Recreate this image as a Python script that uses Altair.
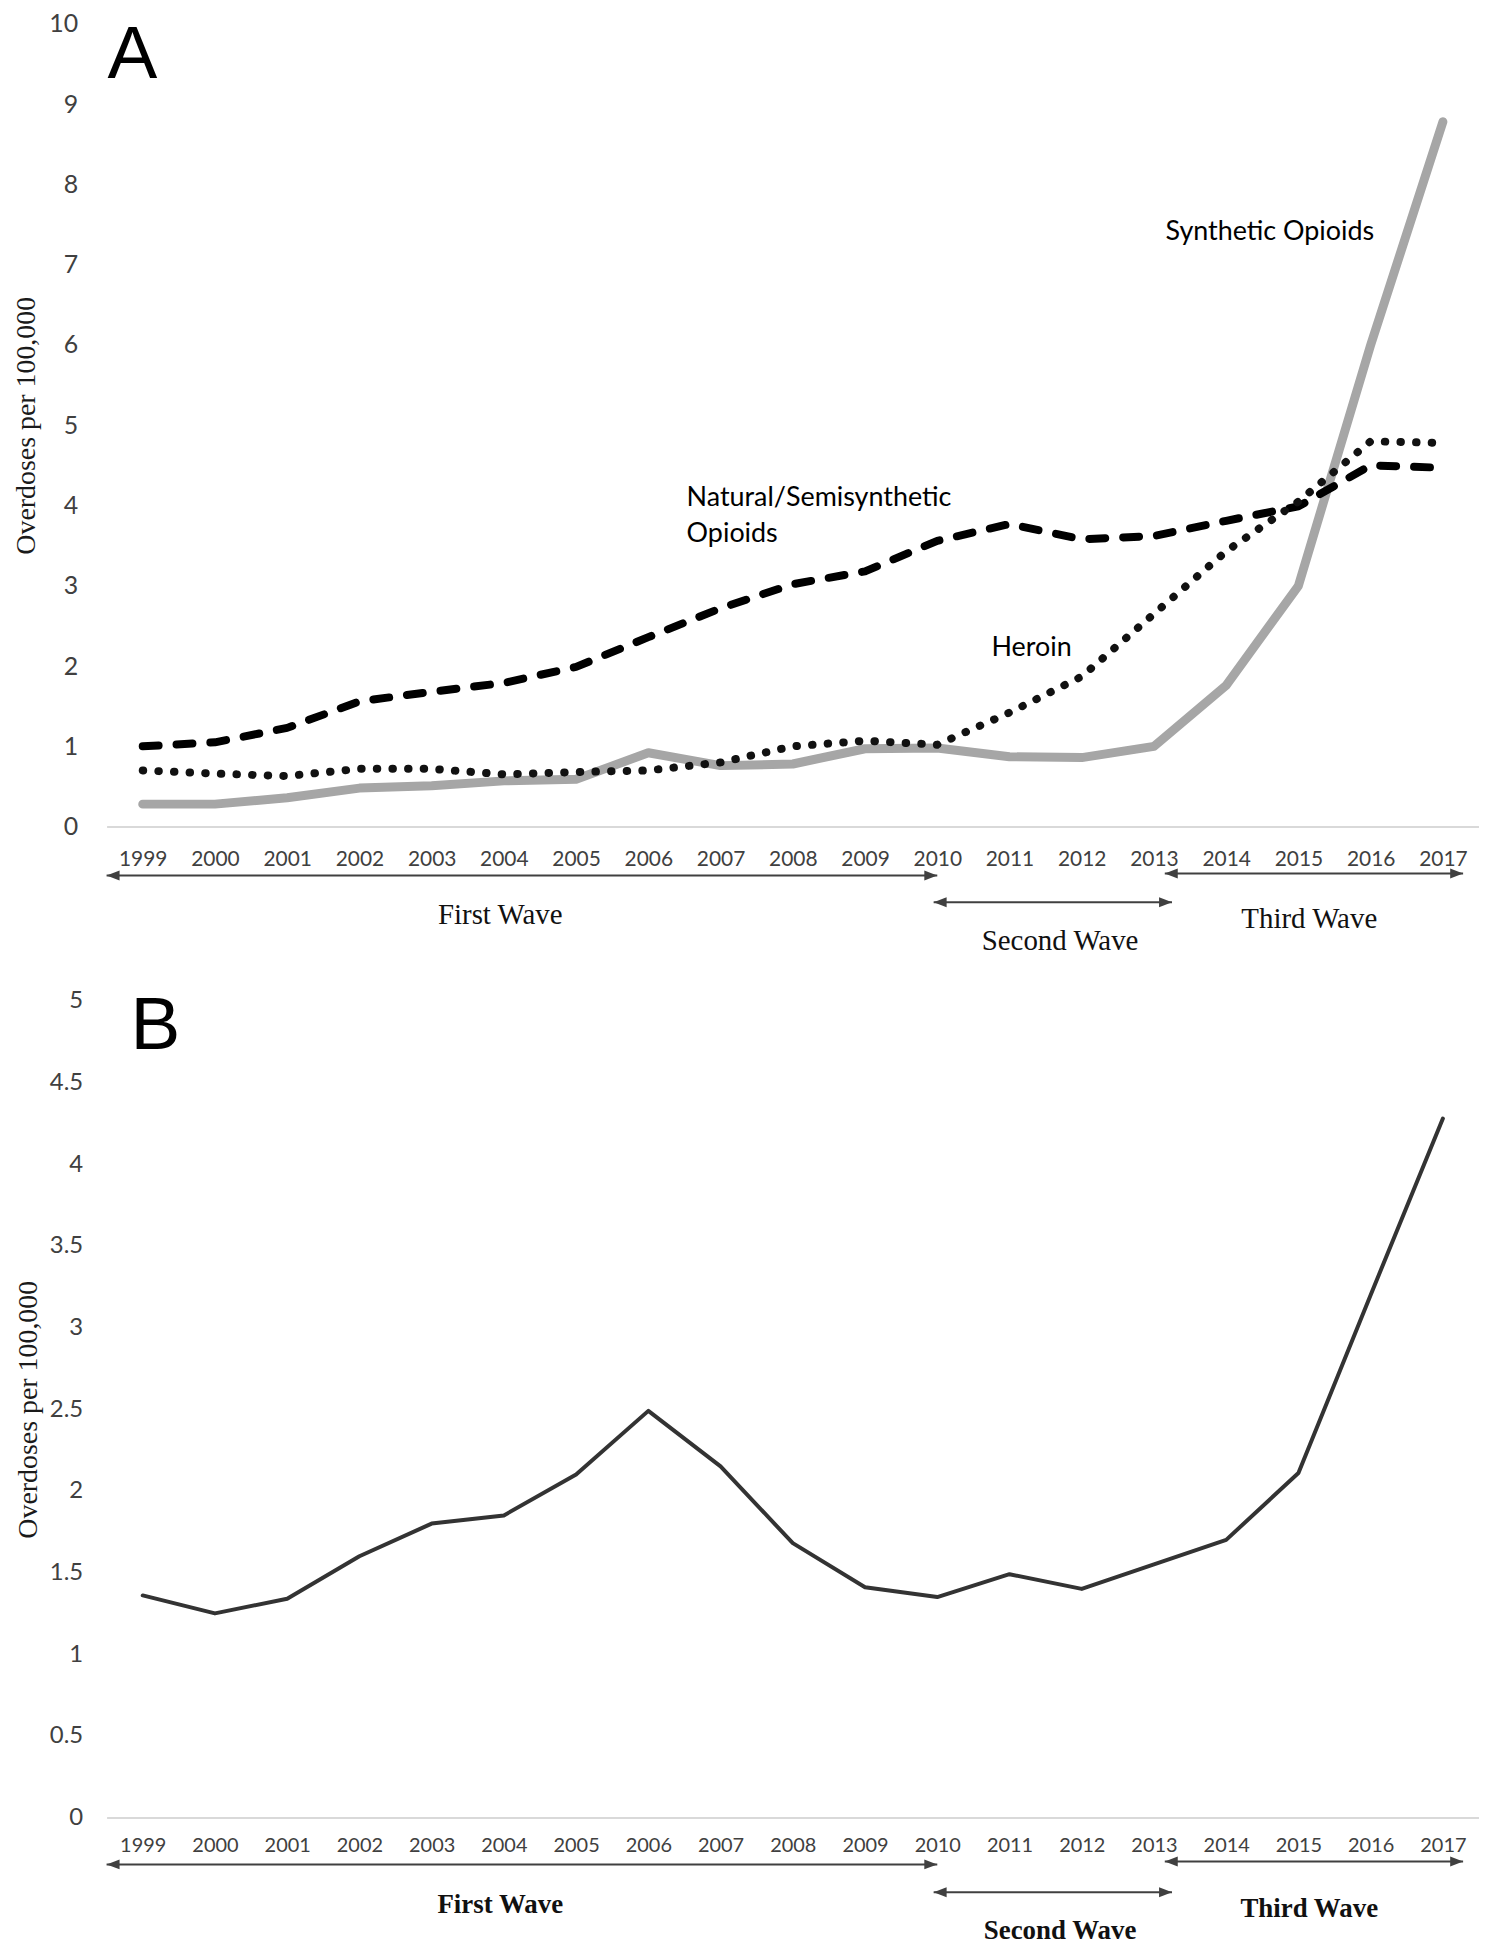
import altair as alt
import pandas as pd

# ---------------- data ----------------
YEARS = list(range(1999, 2018))
NATURAL = [1.0, 1.05, 1.23, 1.56, 1.68, 1.79, 1.99, 2.36, 2.72, 3.02, 3.18, 3.56,
           3.77, 3.58, 3.62, 3.81, 3.99, 4.50, 4.47]
HEROIN = [0.70, 0.66, 0.63, 0.72, 0.72, 0.65, 0.68, 0.70, 0.80, 1.00, 1.07, 1.02,
          1.42, 1.87, 2.65, 3.43, 4.05, 4.80, 4.78]
SYNTHETIC = [0.28, 0.28, 0.36, 0.48, 0.51, 0.57, 0.59, 0.92, 0.76, 0.78, 0.97, 0.98,
             0.87, 0.86, 1.00, 1.76, 3.00, 6.00, 8.78]
PANEL_B = [1.36, 1.25, 1.34, 1.60, 1.80, 1.85, 2.10, 2.49, 2.15, 1.68, 1.41, 1.35,
           1.49, 1.40, 1.55, 1.70, 2.11, 3.20, 4.28]

Y_TICKS_A = list(range(0, 11))
Y_TICKS_B = [0, 0.5, 1, 1.5, 2, 2.5, 3, 3.5, 4, 4.5, 5]

WAVES = ["First Wave", "Second Wave", "Third Wave"]
WAVE_START = [1998.5, 2009.95, 2013.15]
WAVE_END = [2010.0, 2013.25, 2017.28]
WAVE_LABEL_X = [2003.95, 2011.7, 2015.15]

ANNOT_TEXT = ["Natural/Semisynthetic", "Opioids", "Heroin", "Synthetic Opioids"]
ANNOT_YEAR = [2006.53, 2006.53, 2010.75, 2013.16]
ANNOT_VALUE = [4.09, 3.64, 2.22, 7.41]

Y_TITLE = "Overdoses per 100,000"

# ---------------- styling ----------------
W = 1378
HA, HB = 806, 820
SANS = "Lato"
SERIF = "Liberation Serif"
LABEL_COL = "#404040"
ARROW_COL = "#404040"
XS = alt.Scale(domain=[1998.5, 2017.5], nice=False, zero=False)

LEFT_HEAD = "M0,0L2,-0.77L2,0.77Z"
RIGHT_HEAD = "M0,0L-2,-0.77L-2,0.77Z"


def series_df(vals):
    return pd.DataFrame({"year": YEARS, "value": vals})


def x_axis(label_pad, font_size):
    return alt.Axis(values=YEARS, format="d", title=None, grid=False, ticks=False,
                    tickSize=0, domain=True, domainColor="#d9d9d9", domainWidth=2,
                    labelFont=SANS, labelFontSize=font_size, labelColor=LABEL_COL,
                    labelPadding=label_pad, labelFlush=False, labelOverlap=False)


def y_axis(values, label_pad, title_pad, fmt, font_size):
    return alt.Axis(values=values, format=fmt, title=Y_TITLE, grid=False, ticks=False,
                    tickSize=0, domain=False, labelFont=SANS, labelFontSize=font_size,
                    labelColor=LABEL_COL, labelPadding=label_pad,
                    titleFont=SERIF, titleFontSize=28, titleFontWeight="normal",
                    titleColor="#1a1a1a", titlePadding=title_pad)


def wave_layers(arrow_y, label_y, font_size, weight):
    layers = []
    for i, name in enumerate(WAVES):
        seg = pd.DataFrame({"year": [WAVE_START[i]], "year2": [WAVE_END[i]]})
        layers.append(alt.Chart(seg).mark_rule(color=ARROW_COL, strokeWidth=2).encode(
            x=alt.X("year:Q", scale=XS), x2="year2:Q", y=alt.value(arrow_y[i])))
        layers.append(alt.Chart(pd.DataFrame({"year": [WAVE_START[i]]})).mark_point(
            shape=LEFT_HEAD, filled=True, size=169, color=ARROW_COL, opacity=1,
            strokeWidth=0).encode(x=alt.X("year:Q", scale=XS), y=alt.value(arrow_y[i])))
        layers.append(alt.Chart(pd.DataFrame({"year": [WAVE_END[i]]})).mark_point(
            shape=RIGHT_HEAD, filled=True, size=169, color=ARROW_COL, opacity=1,
            strokeWidth=0).encode(x=alt.X("year:Q", scale=XS), y=alt.value(arrow_y[i])))
        layers.append(alt.Chart(pd.DataFrame({"year": [WAVE_LABEL_X[i]], "t": [name]})).mark_text(
            font=SERIF, fontSize=font_size, fontWeight=weight, color="#111111",
            align="center", baseline="middle").encode(
            x=alt.X("year:Q", scale=XS), y=alt.value(label_y[i]), text="t:N"))
    return layers


# ---------------- panel A ----------------
ysA = alt.Scale(domain=[0, 10], nice=False, zero=True)

syn = alt.Chart(series_df(SYNTHETIC)).mark_line(
    color="#a6a6a6", strokeWidth=9, strokeCap="round", strokeJoin="round").encode(
    x=alt.X("year:Q", scale=XS, axis=x_axis(22, 21)),
    y=alt.Y("value:Q", scale=ysA, axis=y_axis(Y_TICKS_A, 29, 8, "d", 25)))
nat = alt.Chart(series_df(NATURAL)).mark_line(
    color="#000000", strokeWidth=8, strokeDash=[16, 18], strokeCap="round",
    strokeJoin="round").encode(x=alt.X("year:Q", scale=XS), y=alt.Y("value:Q", scale=ysA))
her = alt.Chart(series_df(HEROIN)).mark_line(
    color="#111111", strokeWidth=8, strokeDash=[0.5, 15.2], strokeCap="round",
    strokeJoin="round").encode(x=alt.X("year:Q", scale=XS), y=alt.Y("value:Q", scale=ysA))

annot = alt.Chart(pd.DataFrame({"year": ANNOT_YEAR, "value": ANNOT_VALUE, "t": ANNOT_TEXT})).mark_text(
    font=SANS, fontSize=27, color="#000000", align="left", baseline="middle").encode(
    x=alt.X("year:Q", scale=XS), y=alt.Y("value:Q", scale=ysA), text="t:N")

letterA = alt.Chart(pd.DataFrame({"t": ["A"]})).mark_text(
    font="Liberation Sans", fontSize=75, color="#000000", align="left",
    baseline="alphabetic").encode(x=alt.value(1), y=alt.value(54), text="t:N")

panelA = alt.layer(
    syn, nat, her, annot, letterA,
    *wave_layers([855, 882, 853], [895, 921, 899], 29, "normal")
).properties(width=W, height=HA)

# ---------------- panel B ----------------
ysB = alt.Scale(domain=[0, 5], nice=False, zero=True)

lineB = alt.Chart(series_df(PANEL_B)).mark_line(
    color="#333333", strokeWidth=4, strokeJoin="round", strokeCap="round").encode(
    x=alt.X("year:Q", scale=XS, axis=x_axis(18, 20)),
    y=alt.Y("value:Q", scale=ysB, axis=y_axis(Y_TICKS_B, 24, 7, "~g", 24)))

letterB = alt.Chart(pd.DataFrame({"t": ["B"]})).mark_text(
    font="Liberation Sans", fontSize=75, color="#000000", align="left",
    baseline="alphabetic").encode(x=alt.value(24), y=alt.value(48), text="t:N")

panelB = alt.layer(
    lineB, letterB,
    *wave_layers([867, 895, 864], [908, 934, 912], 27, "bold")
).properties(width=W, height=HB)

chart = alt.vconcat(panelA, panelB, spacing=175, bounds="flush").properties(
    padding={"left": 4, "top": 0, "right": 0, "bottom": 0}, background="white"
).configure_view(stroke=None)

chart.save("out.html", embed_options={"renderer": "svg", "actions": False})
